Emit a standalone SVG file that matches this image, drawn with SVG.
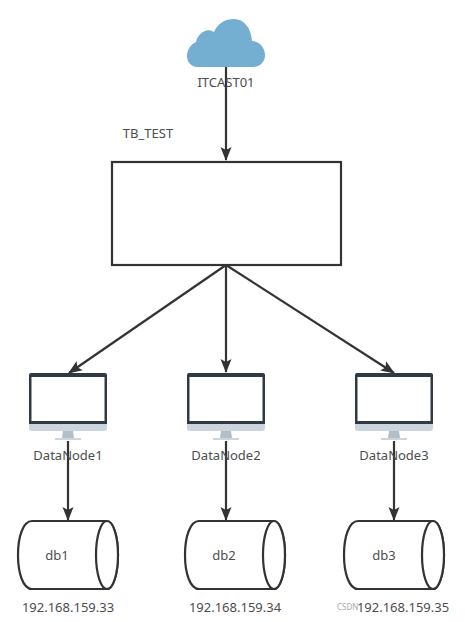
<svg xmlns="http://www.w3.org/2000/svg" width="465" height="622" viewBox="0 0 465 622">
<style>
text{font-family:"Noto Sans","Open Sans","Liberation Sans",sans-serif;font-size:13px;fill:#4d4d4d;text-anchor:middle}
.edge{fill:none;stroke:#333;stroke-width:2.2}
.box{fill:#fff;stroke:#333;stroke-width:2.2}
.wm{font-size:8px;fill:#aaa;text-anchor:start}
</style>
<defs>
<marker id="arrow" markerUnits="userSpaceOnUse" markerWidth="16" markerHeight="14" refX="13" refY="6.500" orient="auto"><path d="M0 1L14 6.500L0 12L3 6.500Z" fill="#333"/></marker>
<g id="monitor">
<rect x="0" y="0" width="78" height="53" rx="2" fill="#2f3a45"/>
<rect x="2.500" y="4" width="73" height="44" fill="#fff"/>
<path d="M0 51H78V55Q78 58 75 58H3Q0 58 0 55Z" fill="#ccd5dd"/>
<path d="M34 58H44L45 65H33Z" fill="#b4bec6"/>
<rect x="26" y="65" width="26" height="2" fill="#ccd5dd"/>
</g>
<g id="cyl">
<path class="box" d="M14 0H89C95 0 100 15 100 34S95 68 89 68H14C5 68 0 52 0 34S5 0 14 0Z"/>
<ellipse class="box" cx="89" cy="34" rx="11" ry="34"/>
</g>
</defs>
<g id="connectors">
<path class="edge" d="M226 67V160" marker-end="url(#arrow)"/>
<path class="edge" d="M226 265L69 373" marker-end="url(#arrow)"/>
<path class="edge" d="M226 265V372" marker-end="url(#arrow)"/>
<path class="edge" d="M226 265L394 373" marker-end="url(#arrow)"/>
<path class="edge" d="M68 441V520" marker-end="url(#arrow)"/>
<path class="edge" d="M226 441V520" marker-end="url(#arrow)"/>
<path class="edge" d="M394 441V520" marker-end="url(#arrow)"/>
</g>
<g id="cloud">
<path d="M198 67C191 67 187 62 187 56C187 50 190 45 196 42C198 33 207 27 214 32C218 23 225 19 234 19C244 19 251 28 252 41C260 41 265 48 265 55C265 62 260 67 253 67Z" fill="#74aed0"/>
<text x="226" y="87">ITCAST01</text>
</g>
<g id="tb-test">
<text x="148" y="138">TB_TEST</text>
<rect class="box" x="112" y="162" width="229" height="103"/>
</g>
<g id="datanode1"><use href="#monitor" x="29" y="373"/><text x="68" y="460">DataNode1</text></g>
<g id="datanode2"><use href="#monitor" x="187" y="373"/><text x="226" y="460">DataNode2</text></g>
<g id="datanode3"><use href="#monitor" x="355" y="373"/><text x="394" y="460">DataNode3</text></g>
<g id="db1"><use href="#cyl" x="18" y="521"/><text x="57" y="560">db1</text><text x="68" y="612">192.168.159.33</text></g>
<g id="db2"><use href="#cyl" x="185" y="521"/><text x="224" y="560">db2</text><text x="235" y="612">192.168.159.34</text></g>
<g id="db3"><use href="#cyl" x="344" y="521"/><text x="384" y="560">db3</text><text x="403" y="612">192.168.159.35</text></g>
<text class="wm" x="337" y="610">CSDN</text>
</svg>
